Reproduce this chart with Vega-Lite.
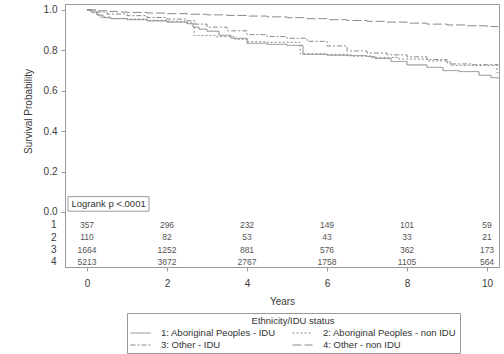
{
  "$schema": "https://vega.github.io/schema/vega-lite/v6.json",
  "width": 434,
  "height": 263,
  "autosize": {"type": "none"},
  "padding": {"left": 65, "top": 4, "right": 5, "bottom": 87},
  "background": "white",
  "config": {
    "font": "Liberation Sans",
    "view": {"stroke": "#9a9a9a", "strokeWidth": 1},
    "axis": {"labelFont": "Liberation Sans", "titleFont": "Liberation Sans", "labelColor": "#3a3a3a", "titleColor": "#3a3a3a", "domainColor": "#9a9a9a", "tickColor": "#9a9a9a", "grid": false, "labelFontSize": 10, "titleFontSize": 10, "titleFontWeight": "normal"},
    "legend": {"labelFont": "Liberation Sans", "titleFont": "Liberation Sans"}
  },
  "datasets": {
    "curves": [
      {"group": "1: Aboriginal Peoples - IDU", "year": 0, "surv": 1.0},
      {"group": "1: Aboriginal Peoples - IDU", "year": 0.1, "surv": 0.99},
      {"group": "1: Aboriginal Peoples - IDU", "year": 0.25, "surv": 0.975},
      {"group": "1: Aboriginal Peoples - IDU", "year": 0.4, "surv": 0.962},
      {"group": "1: Aboriginal Peoples - IDU", "year": 0.6, "surv": 0.957},
      {"group": "1: Aboriginal Peoples - IDU", "year": 1.0, "surv": 0.952},
      {"group": "1: Aboriginal Peoples - IDU", "year": 1.5, "surv": 0.946},
      {"group": "1: Aboriginal Peoples - IDU", "year": 2.0, "surv": 0.94},
      {"group": "1: Aboriginal Peoples - IDU", "year": 2.5, "surv": 0.932},
      {"group": "1: Aboriginal Peoples - IDU", "year": 2.65, "surv": 0.915},
      {"group": "1: Aboriginal Peoples - IDU", "year": 2.8, "surv": 0.905},
      {"group": "1: Aboriginal Peoples - IDU", "year": 3.0, "surv": 0.895},
      {"group": "1: Aboriginal Peoples - IDU", "year": 3.3, "surv": 0.875},
      {"group": "1: Aboriginal Peoples - IDU", "year": 3.6, "surv": 0.86},
      {"group": "1: Aboriginal Peoples - IDU", "year": 4.0, "surv": 0.835},
      {"group": "1: Aboriginal Peoples - IDU", "year": 4.5, "surv": 0.83},
      {"group": "1: Aboriginal Peoples - IDU", "year": 5.0, "surv": 0.825},
      {"group": "1: Aboriginal Peoples - IDU", "year": 5.4, "surv": 0.78},
      {"group": "1: Aboriginal Peoples - IDU", "year": 6.0, "surv": 0.776},
      {"group": "1: Aboriginal Peoples - IDU", "year": 6.5, "surv": 0.774},
      {"group": "1: Aboriginal Peoples - IDU", "year": 7.0, "surv": 0.77},
      {"group": "1: Aboriginal Peoples - IDU", "year": 7.2, "surv": 0.76},
      {"group": "1: Aboriginal Peoples - IDU", "year": 7.6, "surv": 0.745},
      {"group": "1: Aboriginal Peoples - IDU", "year": 8.0, "surv": 0.728},
      {"group": "1: Aboriginal Peoples - IDU", "year": 8.5, "surv": 0.716},
      {"group": "1: Aboriginal Peoples - IDU", "year": 8.9, "surv": 0.7},
      {"group": "1: Aboriginal Peoples - IDU", "year": 9.3, "surv": 0.695},
      {"group": "1: Aboriginal Peoples - IDU", "year": 9.8, "surv": 0.677},
      {"group": "1: Aboriginal Peoples - IDU", "year": 10.1, "surv": 0.665},
      {"group": "1: Aboriginal Peoples - IDU", "year": 10.28, "surv": 0.66},
      {"group": "2: Aboriginal Peoples - non IDU", "year": 0, "surv": 1.0},
      {"group": "2: Aboriginal Peoples - non IDU", "year": 0.15, "surv": 0.985},
      {"group": "2: Aboriginal Peoples - non IDU", "year": 0.3, "surv": 0.965},
      {"group": "2: Aboriginal Peoples - non IDU", "year": 0.6, "surv": 0.958},
      {"group": "2: Aboriginal Peoples - non IDU", "year": 1.0, "surv": 0.955},
      {"group": "2: Aboriginal Peoples - non IDU", "year": 1.5, "surv": 0.949},
      {"group": "2: Aboriginal Peoples - non IDU", "year": 2.0, "surv": 0.944},
      {"group": "2: Aboriginal Peoples - non IDU", "year": 2.5, "surv": 0.937},
      {"group": "2: Aboriginal Peoples - non IDU", "year": 2.68, "surv": 0.874},
      {"group": "2: Aboriginal Peoples - non IDU", "year": 3.2, "surv": 0.868},
      {"group": "2: Aboriginal Peoples - non IDU", "year": 3.7, "surv": 0.855},
      {"group": "2: Aboriginal Peoples - non IDU", "year": 4.0, "surv": 0.843},
      {"group": "2: Aboriginal Peoples - non IDU", "year": 4.5, "surv": 0.84},
      {"group": "2: Aboriginal Peoples - non IDU", "year": 5.33, "surv": 0.784},
      {"group": "2: Aboriginal Peoples - non IDU", "year": 6.0, "surv": 0.78},
      {"group": "2: Aboriginal Peoples - non IDU", "year": 6.6, "surv": 0.772},
      {"group": "2: Aboriginal Peoples - non IDU", "year": 7.1, "surv": 0.765},
      {"group": "2: Aboriginal Peoples - non IDU", "year": 7.8, "surv": 0.757},
      {"group": "2: Aboriginal Peoples - non IDU", "year": 8.5, "surv": 0.748},
      {"group": "2: Aboriginal Peoples - non IDU", "year": 9.0, "surv": 0.738},
      {"group": "2: Aboriginal Peoples - non IDU", "year": 9.08, "surv": 0.726},
      {"group": "2: Aboriginal Peoples - non IDU", "year": 10.2, "surv": 0.726},
      {"group": "2: Aboriginal Peoples - non IDU", "year": 10.25, "surv": 0.69},
      {"group": "2: Aboriginal Peoples - non IDU", "year": 10.28, "surv": 0.69},
      {"group": "3: Other - IDU", "year": 0, "surv": 1.0},
      {"group": "3: Other - IDU", "year": 0.2, "surv": 0.99},
      {"group": "3: Other - IDU", "year": 0.5, "surv": 0.98},
      {"group": "3: Other - IDU", "year": 1.0, "surv": 0.972},
      {"group": "3: Other - IDU", "year": 1.5, "surv": 0.963},
      {"group": "3: Other - IDU", "year": 2.0, "surv": 0.955},
      {"group": "3: Other - IDU", "year": 2.5, "surv": 0.947},
      {"group": "3: Other - IDU", "year": 2.7, "surv": 0.93},
      {"group": "3: Other - IDU", "year": 3.0, "surv": 0.915},
      {"group": "3: Other - IDU", "year": 3.5, "surv": 0.897},
      {"group": "3: Other - IDU", "year": 4.0, "surv": 0.878},
      {"group": "3: Other - IDU", "year": 4.5, "surv": 0.869},
      {"group": "3: Other - IDU", "year": 5.0, "surv": 0.86},
      {"group": "3: Other - IDU", "year": 5.5, "surv": 0.845},
      {"group": "3: Other - IDU", "year": 6.0, "surv": 0.822},
      {"group": "3: Other - IDU", "year": 6.5, "surv": 0.797},
      {"group": "3: Other - IDU", "year": 7.0, "surv": 0.787},
      {"group": "3: Other - IDU", "year": 7.5, "surv": 0.778},
      {"group": "3: Other - IDU", "year": 8.0, "surv": 0.768},
      {"group": "3: Other - IDU", "year": 8.5, "surv": 0.755},
      {"group": "3: Other - IDU", "year": 9.0, "surv": 0.743},
      {"group": "3: Other - IDU", "year": 9.1, "surv": 0.733},
      {"group": "3: Other - IDU", "year": 9.6, "surv": 0.729},
      {"group": "3: Other - IDU", "year": 10.28, "surv": 0.726},
      {"group": "4: Other - non IDU", "year": 0, "surv": 1.0},
      {"group": "4: Other - non IDU", "year": 0.25, "surv": 0.996},
      {"group": "4: Other - non IDU", "year": 0.5, "surv": 0.993},
      {"group": "4: Other - non IDU", "year": 0.75, "surv": 0.99},
      {"group": "4: Other - non IDU", "year": 1.0, "surv": 0.988},
      {"group": "4: Other - non IDU", "year": 1.5, "surv": 0.985},
      {"group": "4: Other - non IDU", "year": 2.0, "surv": 0.982},
      {"group": "4: Other - non IDU", "year": 2.5, "surv": 0.979},
      {"group": "4: Other - non IDU", "year": 3.0, "surv": 0.976},
      {"group": "4: Other - non IDU", "year": 3.5, "surv": 0.973},
      {"group": "4: Other - non IDU", "year": 4.0, "surv": 0.97},
      {"group": "4: Other - non IDU", "year": 4.5, "surv": 0.966},
      {"group": "4: Other - non IDU", "year": 5.0, "surv": 0.962},
      {"group": "4: Other - non IDU", "year": 5.5, "surv": 0.957},
      {"group": "4: Other - non IDU", "year": 6.0, "surv": 0.952},
      {"group": "4: Other - non IDU", "year": 6.5, "surv": 0.948},
      {"group": "4: Other - non IDU", "year": 7.0, "surv": 0.944},
      {"group": "4: Other - non IDU", "year": 7.5, "surv": 0.94},
      {"group": "4: Other - non IDU", "year": 8.0, "surv": 0.935},
      {"group": "4: Other - non IDU", "year": 8.5, "surv": 0.93},
      {"group": "4: Other - non IDU", "year": 9.0, "surv": 0.926},
      {"group": "4: Other - non IDU", "year": 9.5, "surv": 0.922},
      {"group": "4: Other - non IDU", "year": 10.0, "surv": 0.918},
      {"group": "4: Other - non IDU", "year": 10.28, "surv": 0.917}
    ],
    "risk": [
      {"row": 1, "year": 0, "n": 357}, {"row": 1, "year": 2, "n": 296}, {"row": 1, "year": 4, "n": 232}, {"row": 1, "year": 6, "n": 149}, {"row": 1, "year": 8, "n": 101}, {"row": 1, "year": 10, "n": 59},
      {"row": 2, "year": 0, "n": 110}, {"row": 2, "year": 2, "n": 82}, {"row": 2, "year": 4, "n": 53}, {"row": 2, "year": 6, "n": 43}, {"row": 2, "year": 8, "n": 33}, {"row": 2, "year": 10, "n": 21},
      {"row": 3, "year": 0, "n": 1664}, {"row": 3, "year": 2, "n": 1252}, {"row": 3, "year": 4, "n": 881}, {"row": 3, "year": 6, "n": 576}, {"row": 3, "year": 8, "n": 362}, {"row": 3, "year": 10, "n": 173},
      {"row": 4, "year": 0, "n": 5213}, {"row": 4, "year": 2, "n": 3872}, {"row": 4, "year": 4, "n": 2767}, {"row": 4, "year": 6, "n": 1758}, {"row": 4, "year": 8, "n": 1105}, {"row": 4, "year": 10, "n": 564}
    ]
  },
  "layer": [
    {
      "layer": [
        {
          "data": {"name": "curves"},
          "mark": {"type": "line", "interpolate": "step-after", "color": "#8a8a8a", "strokeWidth": 1},
          "encoding": {
            "x": {"field": "year", "type": "quantitative", "scale": {"domain": [-0.55, 10.3], "nice": false, "zero": false},
                  "axis": {"values": [0, 2, 4, 6, 8, 10], "title": "Years", "tickSize": 4, "labelPadding": 7, "titlePadding": 8, "labelFlush": false}},
            "y": {"field": "surv", "type": "quantitative", "scale": {"domain": [-0.2723, 1.0297], "nice": false, "zero": false},
                  "axis": {"values": [0, 0.2, 0.4, 0.6, 0.8, 1.0], "format": ".1f", "title": "Survival Probability", "tickSize": 4, "labelPadding": 4, "titlePadding": 10, "titleY": 107, "labelFlush": false}},
            "strokeDash": {"field": "group", "type": "nominal",
              "scale": {"domain": ["1: Aboriginal Peoples - IDU", "2: Aboriginal Peoples - non IDU", "3: Other - IDU", "4: Other - non IDU"],
                        "range": [[1, 0], [2, 2], [5, 2, 2, 2], [9, 3]]},
              "legend": {"title": "Ethnicity/IDU status", "orient": "none", "legendX": 62, "legendY": 309, "columns": 2, "direction": "horizontal",
                         "titleAnchor": "middle", "titleFontSize": 9.5, "titleFontWeight": "normal", "titleColor": "#333", "titlePadding": 2,
                         "labelFontSize": 9.5, "labelColor": "#333", "labelOffset": 15, "symbolType": "M-2,0H2", "symbolSize": 100, "symbolOffset": 5,
                         "symbolStrokeColor": "#8a8a8a", "symbolStrokeWidth": 1, "strokeColor": "#9a9a9a", "padding": 3, "rowPadding": 2, "columnPadding": 14}}
          }
        },
        {
          "data": {"values": [{"label": "Logrank p <.0001"}]},
          "mark": {"type": "rect", "fill": "white", "stroke": "#9a9a9a", "strokeWidth": 1},
          "encoding": {
            "x": {"datum": -0.475, "type": "quantitative"},
            "x2": {"datum": 1.55},
            "y": {"datum": 0.004, "type": "quantitative"},
            "y2": {"datum": 0.076}
          }
        },
        {
          "data": {"values": [{"label": "Logrank p <.0001"}]},
          "mark": {"type": "text", "fontSize": 9.5, "color": "#333", "align": "center", "baseline": "middle"},
          "encoding": {
            "x": {"datum": 0.54, "type": "quantitative"},
            "y": {"datum": 0.04, "type": "quantitative"},
            "text": {"field": "label"}
          }
        }
      ]
    },
    {
      "data": {"name": "risk"},
      "mark": {"type": "text", "fontSize": 8.5, "color": "#555", "align": "center", "baseline": "middle"},
      "encoding": {
        "x": {"field": "year", "type": "quantitative"},
        "y": {"field": "row", "type": "quantitative", "scale": {"domain": [-16.92, 4.41], "reverse": true, "nice": false, "zero": false},
              "axis": {"orient": "left", "values": [1, 2, 3, 4], "format": "d", "title": null, "ticks": false, "tickSize": 0, "domain": false, "labelPadding": 9, "labelFontSize": 10}},
        "text": {"field": "n", "type": "quantitative"}
      }
    }
  ],
  "resolve": {"scale": {"y": "independent"}, "axis": {"y": "independent"}}
}
